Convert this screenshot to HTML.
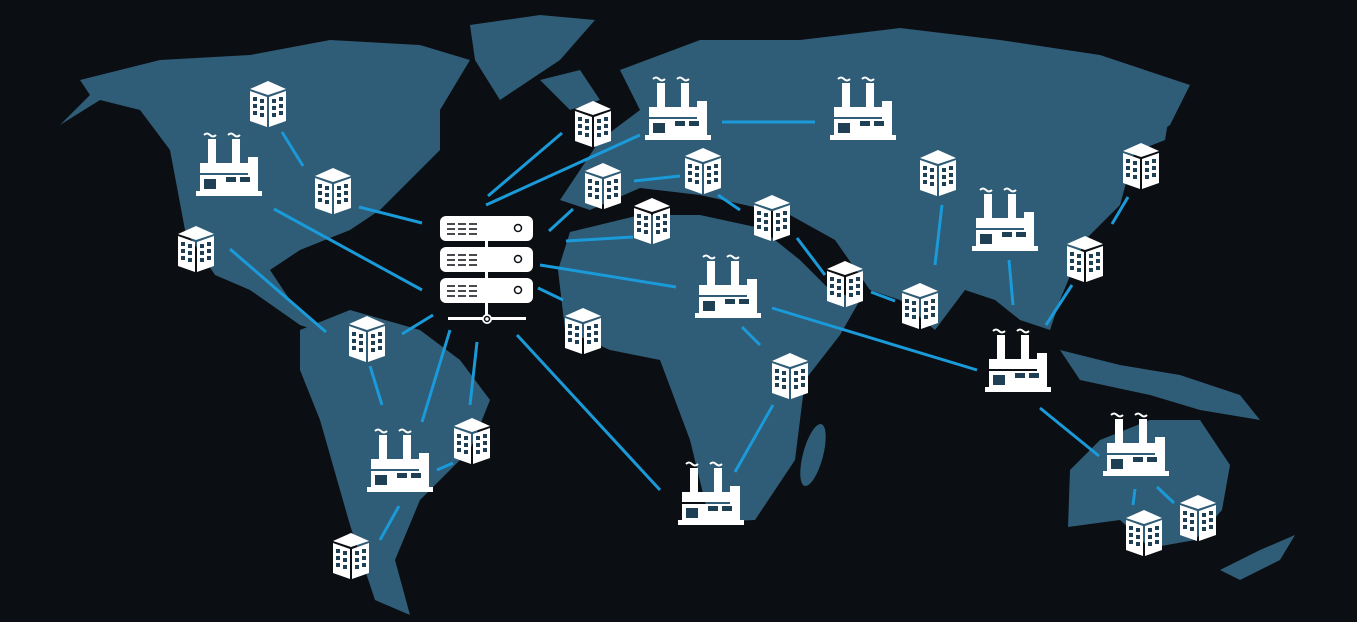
<!DOCTYPE html>
<html><head><style>html,body{margin:0;padding:0;background:#0b0e12;}svg{display:block}</style></head><body>
<svg width="1357" height="622" viewBox="0 0 1357 622" xmlns="http://www.w3.org/2000/svg">
<defs>
<symbol id="b" viewBox="0 0 36 46">
<polygon points="0,8 18,0 36,8 18,14" fill="#fff"/>
<polygon points="0,10 17,16 17,46 0,40" fill="#fff"/>
<polygon points="19,16 36,10 36,40 19,46" fill="#fff"/>
<g fill="#1f3f55">
<rect x="3" y="16" width="4" height="4"/><rect x="10" y="18" width="4" height="4"/>
<rect x="3" y="23" width="4" height="4"/><rect x="10" y="25" width="4" height="4"/>
<rect x="3" y="30" width="4" height="4"/><rect x="10" y="32" width="4" height="4"/>
<rect x="22" y="18" width="4" height="4"/><rect x="29" y="16" width="4" height="4"/>
<rect x="22" y="25" width="4" height="4"/><rect x="29" y="23" width="4" height="4"/>
<rect x="22" y="32" width="4" height="4"/><rect x="29" y="30" width="4" height="4"/>
</g>
</symbol>
<symbol id="f" viewBox="0 0 66 66">
<path d="M8 4 q3 -3 6 0 q3 3 6 0 M32 4 q3 -3 6 0 q3 3 6 0" stroke="#fff" stroke-width="2" fill="none"/>
<rect x="12" y="8" width="8" height="24" fill="#fff"/>
<rect x="36" y="8" width="8" height="24" fill="#fff"/>
<rect x="4" y="32" width="48" height="10" fill="#fff"/>
<rect x="52" y="26" width="10" height="34" fill="#fff"/>
<rect x="4" y="44" width="48" height="16" fill="#fff"/>
<rect x="8" y="48" width="12" height="10" fill="#1f3f55"/>
<rect x="30" y="46" width="10" height="5" fill="#1f3f55"/>
<rect x="44" y="46" width="10" height="5" fill="#1f3f55"/>
<rect x="0" y="60" width="66" height="5" fill="#fff"/>
</symbol>
</defs>
<g fill="#2f5c77">
<polygon points="80,80 160,60 250,55 330,40 420,45 470,60 440,110 440,150 410,180 380,210 350,230 300,250 270,270 290,300 330,335 300,325 250,290 215,275 185,230 170,150 140,110 100,100 60,125 90,95"/>
<polygon points="470,25 540,15 595,20 560,60 500,100 475,60"/>
<polygon points="300,330 350,310 420,330 460,360 490,400 470,450 420,500 395,560 410,615 375,600 350,525 320,420 300,370"/>
<polygon points="560,200 600,140 640,110 620,70 700,40 800,40 900,28 1000,40 1100,55 1190,85 1170,125 1135,150 1120,205 1085,240 1060,300 1050,330 1020,320 995,300 965,290 935,330 900,300 870,290 835,240 790,215 700,195 640,188 590,210"/>
<polygon points="570,232 640,215 700,215 760,228 800,260 830,290 860,300 840,335 805,380 795,460 755,520 710,522 690,440 660,360 610,350 565,330 558,270"/>
<ellipse cx="813" cy="455" rx="10" ry="32" transform="rotate(15 813 455)"/>
<polygon points="1070,470 1100,440 1150,420 1200,420 1230,465 1222,510 1195,540 1150,548 1120,520 1068,527"/>
<polygon points="1060,350 1120,365 1180,375 1240,395 1260,420 1200,410 1150,395 1080,380"/>
<polygon points="1110,100 1170,110 1165,140 1140,150 1125,130"/>
<polygon points="1220,570 1260,550 1295,535 1280,560 1240,580"/>
<polygon points="540,80 580,70 600,100 570,110"/>
</g>
<g stroke="#1a9ad8" stroke-width="3" fill="none">
<line x1="282" y1="132" x2="303" y2="166"/><line x1="359" y1="207" x2="422" y2="223"/>
<line x1="274" y1="209" x2="422" y2="290"/><line x1="230" y1="249" x2="326" y2="332"/>
<line x1="402" y1="334" x2="433" y2="315"/><line x1="370" y1="366" x2="382" y2="405"/>
<line x1="422" y1="422" x2="450" y2="330"/><line x1="470" y1="405" x2="477" y2="342"/>
<line x1="437" y1="470" x2="453" y2="463"/><line x1="399" y1="506" x2="380" y2="540"/>
<line x1="517" y1="335" x2="660" y2="490"/><line x1="538" y1="288" x2="563" y2="300"/>
<line x1="540" y1="265" x2="676" y2="287"/><line x1="566" y1="241" x2="633" y2="237"/>
<line x1="549" y1="231" x2="573" y2="209"/><line x1="488" y1="196" x2="562" y2="133"/>
<line x1="486" y1="205" x2="640" y2="135"/><line x1="722" y1="122" x2="815" y2="122"/>
<line x1="634" y1="181" x2="680" y2="176"/><line x1="718" y1="195" x2="740" y2="210"/>
<line x1="797" y1="238" x2="825" y2="275"/><line x1="871" y1="292" x2="895" y2="301"/>
<line x1="742" y1="327" x2="760" y2="345"/><line x1="772" y1="308" x2="977" y2="370"/>
<line x1="773" y1="405" x2="735" y2="472"/><line x1="942" y1="205" x2="935" y2="265"/>
<line x1="1009" y1="260" x2="1013" y2="305"/><line x1="1072" y1="285" x2="1046" y2="325"/>
<line x1="1128" y1="197" x2="1112" y2="224"/><line x1="1040" y1="408" x2="1099" y2="456"/>
<line x1="1135" y1="489" x2="1133" y2="505"/><line x1="1157" y1="487" x2="1174" y2="503"/>
</g>
<g>
<use href="#b" x="250" y="81" width="36" height="46"/><use href="#b" x="315" y="168" width="36" height="46"/>
<use href="#b" x="178" y="226" width="36" height="46"/><use href="#b" x="349" y="316" width="36" height="46"/>
<use href="#b" x="454" y="418" width="36" height="46"/><use href="#b" x="333" y="533" width="36" height="46"/>
<use href="#b" x="575" y="101" width="36" height="46"/><use href="#b" x="585" y="163" width="36" height="46"/>
<use href="#b" x="634" y="198" width="36" height="46"/><use href="#b" x="685" y="148" width="36" height="46"/>
<use href="#b" x="754" y="195" width="36" height="46"/><use href="#b" x="827" y="261" width="36" height="46"/>
<use href="#b" x="772" y="353" width="36" height="46"/><use href="#b" x="565" y="308" width="36" height="46"/>
<use href="#b" x="920" y="150" width="36" height="46"/><use href="#b" x="902" y="283" width="36" height="46"/>
<use href="#b" x="1123" y="143" width="36" height="46"/><use href="#b" x="1067" y="236" width="36" height="46"/>
<use href="#b" x="1126" y="510" width="36" height="46"/><use href="#b" x="1180" y="495" width="36" height="46"/>
</g>
<g>
<use href="#f" x="196" y="131" width="66" height="66"/><use href="#f" x="645" y="75" width="66" height="66"/>
<use href="#f" x="830" y="75" width="66" height="66"/><use href="#f" x="972" y="186" width="66" height="66"/>
<use href="#f" x="695" y="253" width="66" height="66"/><use href="#f" x="985" y="327" width="66" height="66"/>
<use href="#f" x="367" y="427" width="66" height="66"/><use href="#f" x="678" y="460" width="66" height="66"/>
<use href="#f" x="1103" y="411" width="66" height="66"/>
</g>
<g fill="#fff">
<rect x="440" y="216" width="93" height="25" rx="6"/>
<rect x="440" y="247" width="93" height="25" rx="6"/>
<rect x="440" y="278" width="93" height="25" rx="6"/>
<rect x="485" y="240" width="3" height="80"/>
<rect x="448" y="317" width="78" height="3"/>
<circle cx="487" cy="319" r="5"/>
</g>
<g stroke="#0b0e12" stroke-width="1.5" fill="none">
<path d="M447 224h8m3 0h8m3 0h8M447 229h8m3 0h8m3 0h8M447 234h8m3 0h8m3 0h8"/>
<path d="M447 255h8m3 0h8m3 0h8M447 260h8m3 0h8m3 0h8M447 265h8m3 0h8m3 0h8"/>
<path d="M447 286h8m3 0h8m3 0h8M447 291h8m3 0h8m3 0h8M447 296h8m3 0h8m3 0h8"/>
<circle cx="518" cy="228" r="3.5"/><circle cx="518" cy="259" r="3.5"/><circle cx="518" cy="290" r="3.5"/>
<circle cx="487" cy="319" r="2.5"/>
</g>
</svg>
</body></html>
